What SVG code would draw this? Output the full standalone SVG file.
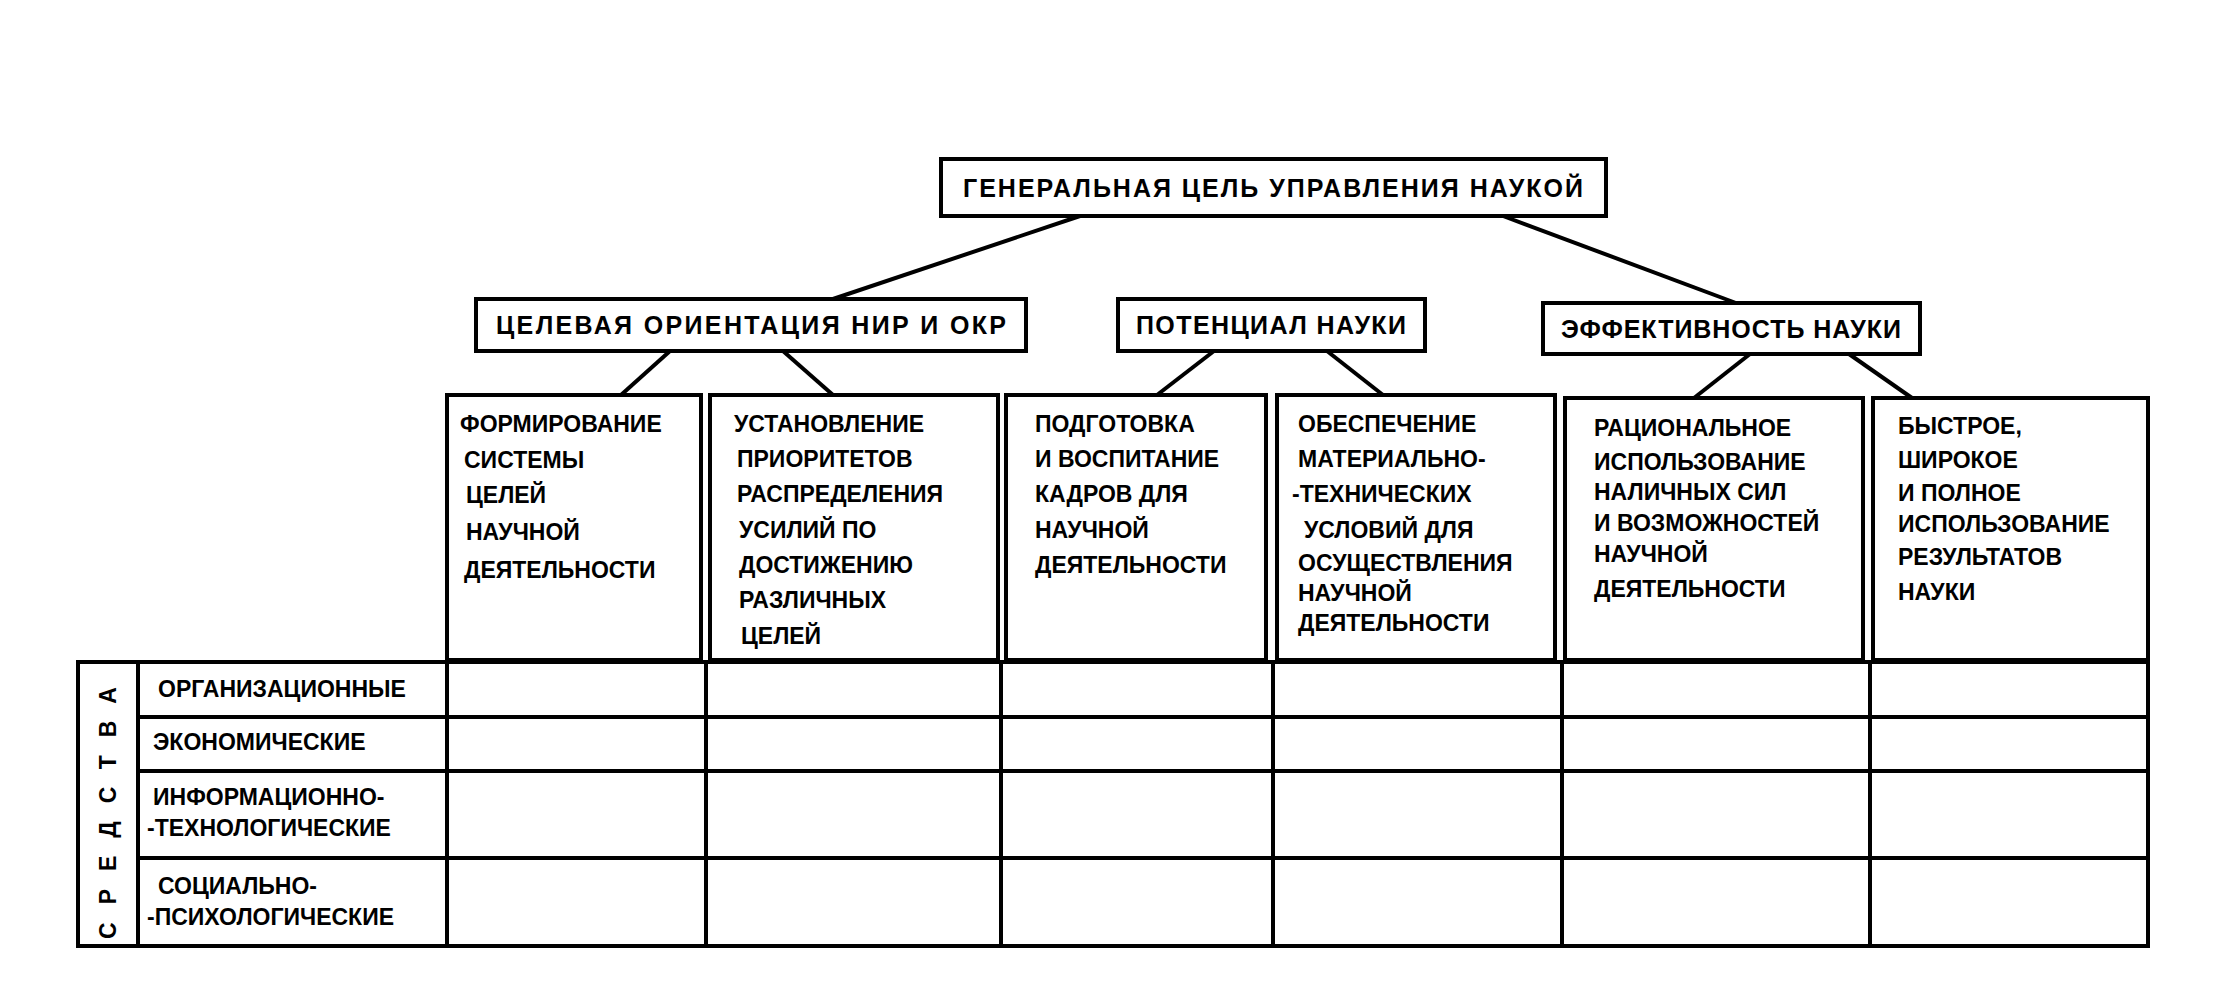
<svg xmlns="http://www.w3.org/2000/svg" width="2213" height="1002" viewBox="0 0 2213 1002">
<style>
.b{fill:#fff;stroke:#000;stroke-width:4}
.l{stroke:#000;stroke-width:4;fill:none}
.t{font-family:"Liberation Sans",Arial,sans-serif;font-weight:bold;font-size:23px;fill:#000}
.h{font-family:"Liberation Sans",Arial,sans-serif;font-weight:bold;font-size:25px;fill:#000}
</style>
<rect width="2213" height="1002" fill="#fff"/>
<g id="connectors" class="l">
<line x1="1080" y1="216" x2="833" y2="299"/>
<line x1="1503" y1="216" x2="1736" y2="303"/>
<line x1="670" y1="351" x2="621" y2="395"/>
<line x1="783" y1="351" x2="833" y2="395"/>
<line x1="1214" y1="351" x2="1157" y2="395"/>
<line x1="1327" y1="351" x2="1383" y2="395"/>
<line x1="1750" y1="354" x2="1694" y2="398"/>
<line x1="1849" y1="354" x2="1912" y2="398"/>
</g>
<g id="goal"><rect class="b" x="941" y="159" width="665" height="57"/><text class="h" x="1273" y="197" text-anchor="middle" textLength="620">ГЕНЕРАЛЬНАЯ ЦЕЛЬ УПРАВЛЕНИЯ НАУКОЙ</text></g>
<g id="orient"><rect class="b" x="476" y="299" width="550" height="52"/><text class="h" x="751" y="334" text-anchor="middle" textLength="510">ЦЕЛЕВАЯ ОРИЕНТАЦИЯ НИР И ОКР</text></g>
<g id="potential"><rect class="b" x="1118" y="299" width="307" height="52"/><text class="h" x="1271" y="334" text-anchor="middle" textLength="270">ПОТЕНЦИАЛ НАУКИ</text></g>
<g id="effect"><rect class="b" x="1543" y="303" width="377" height="51"/><text class="h" x="1731" y="338" text-anchor="middle" textLength="340">ЭФФЕКТИВНОСТЬ НАУКИ</text></g>
<g id="c1"><rect class="b" x="447" y="395" width="254" height="265"/><text class="t"><tspan x="460" y="432">ФОРМИРОВАНИЕ</tspan><tspan x="464" y="468">СИСТЕМЫ</tspan><tspan x="466" y="503">ЦЕЛЕЙ</tspan><tspan x="466" y="540">НАУЧНОЙ</tspan><tspan x="464" y="578">ДЕЯТЕЛЬНОСТИ</tspan></text></g>
<g id="c2"><rect class="b" x="710" y="395" width="288" height="265"/><text class="t"><tspan x="734" y="432">УСТАНОВЛЕНИЕ</tspan><tspan x="737" y="467">ПРИОРИТЕТОВ</tspan><tspan x="737" y="502">РАСПРЕДЕЛЕНИЯ</tspan><tspan x="739" y="538">УСИЛИЙ ПО</tspan><tspan x="739" y="573">ДОСТИЖЕНИЮ</tspan><tspan x="739" y="608">РАЗЛИЧНЫХ</tspan><tspan x="741" y="644">ЦЕЛЕЙ</tspan></text></g>
<g id="c3"><rect class="b" x="1006" y="395" width="260" height="265"/><text class="t"><tspan x="1035" y="432">ПОДГОТОВКА</tspan><tspan x="1035" y="467">И ВОСПИТАНИЕ</tspan><tspan x="1035" y="502">КАДРОВ ДЛЯ</tspan><tspan x="1035" y="538">НАУЧНОЙ</tspan><tspan x="1035" y="573">ДЕЯТЕЛЬНОСТИ</tspan></text></g>
<g id="c4"><rect class="b" x="1277" y="395" width="278" height="265"/><text class="t"><tspan x="1298" y="432">ОБЕСПЕЧЕНИЕ</tspan><tspan x="1298" y="467">МАТЕРИАЛЬНО-</tspan><tspan x="1292" y="502">-ТЕХНИЧЕСКИХ</tspan><tspan x="1304" y="538">УСЛОВИЙ ДЛЯ</tspan><tspan x="1298" y="571">ОСУЩЕСТВЛЕНИЯ</tspan><tspan x="1298" y="601">НАУЧНОЙ</tspan><tspan x="1298" y="631">ДЕЯТЕЛЬНОСТИ</tspan></text></g>
<g id="c5"><rect class="b" x="1565" y="398" width="298" height="262"/><text class="t"><tspan x="1594" y="436">РАЦИОНАЛЬНОЕ</tspan><tspan x="1594" y="470">ИСПОЛЬЗОВАНИЕ</tspan><tspan x="1594" y="500">НАЛИЧНЫХ СИЛ</tspan><tspan x="1594" y="531">И ВОЗМОЖНОСТЕЙ</tspan><tspan x="1594" y="562">НАУЧНОЙ</tspan><tspan x="1594" y="597">ДЕЯТЕЛЬНОСТИ</tspan></text></g>
<g id="c6"><rect class="b" x="1873" y="398" width="275" height="262"/><text class="t"><tspan x="1898" y="434">БЫСТРОЕ,</tspan><tspan x="1898" y="468">ШИРОКОЕ</tspan><tspan x="1898" y="501">И ПОЛНОЕ</tspan><tspan x="1898" y="532">ИСПОЛЬЗОВАНИЕ</tspan><tspan x="1898" y="565">РЕЗУЛЬТАТОВ</tspan><tspan x="1898" y="600">НАУКИ</tspan></text></g>
<g id="table" class="l">
<rect x="78" y="662" width="2070" height="284"/>
<line x1="138" y1="662" x2="138" y2="946"/>
<line x1="138" y1="717" x2="2148" y2="717"/>
<line x1="138" y1="771" x2="2148" y2="771"/>
<line x1="138" y1="858" x2="2148" y2="858"/>
<line x1="447" y1="662" x2="447" y2="946"/>
<line x1="706" y1="662" x2="706" y2="946"/>
<line x1="1001" y1="662" x2="1001" y2="946"/>
<line x1="1273" y1="662" x2="1273" y2="946"/>
<line x1="1562" y1="662" x2="1562" y2="946"/>
<line x1="1870" y1="662" x2="1870" y2="946"/>
</g>
<g id="labels" class="t">
<text x="108" y="804" transform="rotate(-90 108 804)" text-anchor="middle" dy="8" letter-spacing="18">СРЕДСТВА</text>
<text x="158" y="697">ОРГАНИЗАЦИОННЫЕ</text>
<text x="153" y="750">ЭКОНОМИЧЕСКИЕ</text>
<text x="153" y="805">ИНФОРМАЦИОННО-</text>
<text x="147" y="836">-ТЕХНОЛОГИЧЕСКИЕ</text>
<text x="158" y="894">СОЦИАЛЬНО-</text>
<text x="147" y="925">-ПСИХОЛОГИЧЕСКИЕ</text>
</g>
</svg>
